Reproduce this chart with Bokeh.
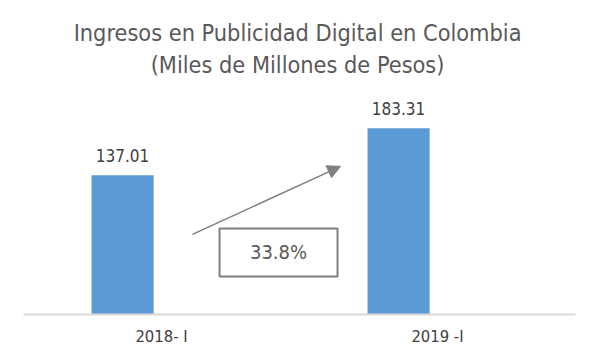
from bokeh.plotting import figure
from bokeh.models import ColumnDataSource, FactorRange, Range1d, Label, Arrow, NormalHead, LabelSet
from bokeh.transform import dodge
from bokeh.core.properties import value
from bokeh.embed import file_html
from bokeh.resources import INLINE

categories = ["2018- I", "2019 -I"]
values = [137.01, 183.31]
value_labels = ["137.01", "183.31"]
title_lines = ["Ingresos en Publicidad Digital en Colombia", "(Miles de Millones de Pesos)"]

growth = (values[1] / values[0] - 1) * 100
growth_label = f"{growth:.1f}%"

FONT = "DejaVu Sans Condensed"

src = ColumnDataSource(dict(cat=categories, val=values, lab=value_labels))

p = figure(width=582, height=345, x_range=FactorRange(factors=categories, range_padding=0),
           y_range=Range1d(0, 309), output_backend="svg", toolbar_location=None,
           y_axis_location=None, min_border_left=23, min_border_right=7,
           min_border_top=0, min_border_bottom=31, frame_width=552, frame_height=314)
p.outline_line_color = None
p.xgrid.visible = False
p.ygrid.visible = False

p.vbar(x=dodge("cat", -0.141, range=p.x_range), top="val", width=0.225, source=src,
       fill_color="#5b9bd5", line_color=None)

labels = LabelSet(x=dodge("cat", -0.141, range=p.x_range), y="val", text="lab", source=src,
                  text_align="center", text_baseline="alphabetic", y_offset=13,
                  text_font=value(FONT), text_font_size="17px", text_color="#404040")
p.add_layout(labels)

ax = p.xaxis[0]
ax.axis_line_color = "#d9d9d9"
ax.axis_line_width = 2
ax.major_tick_line_color = None
ax.minor_tick_line_color = None
ax.major_label_text_font = FONT
ax.major_label_text_font_size = "16.5px"
ax.major_label_text_color = "#404040"
ax.major_label_standoff = 6

# title
p.add_layout(Label(x=0.993, y=277.3, text=title_lines[0], text_align="center", text_baseline="middle",
                   text_font=FONT, text_font_size="23.3px", text_color="#595959"))
p.add_layout(Label(x=0.993, y=246.3, text=title_lines[1], text_align="center", text_baseline="middle",
                   text_font=FONT, text_font_size="23.3px", text_color="#595959"))

# growth arrow
p.add_layout(Arrow(x_start=0.612, y_start=78.8, x_end=1.149, y_end=145.8,
                   line_color="#7f7f7f", line_width=1.5,
                   end=NormalHead(size=13, fill_color="#7f7f7f", line_color="#7f7f7f")))

# growth box
p.rect(x=[0.924], y=[61.1], width=0.4275, height=47.3, fill_color="white",
       line_color="#7f7f7f", line_width=2)
p.add_layout(Label(x=0.924, y=61.1, text=growth_label, text_align="center", text_baseline="middle",
                   text_font=FONT, text_font_size="20px", text_color="#595959"))

open("out.html", "w").write(file_html(p, INLINE))
